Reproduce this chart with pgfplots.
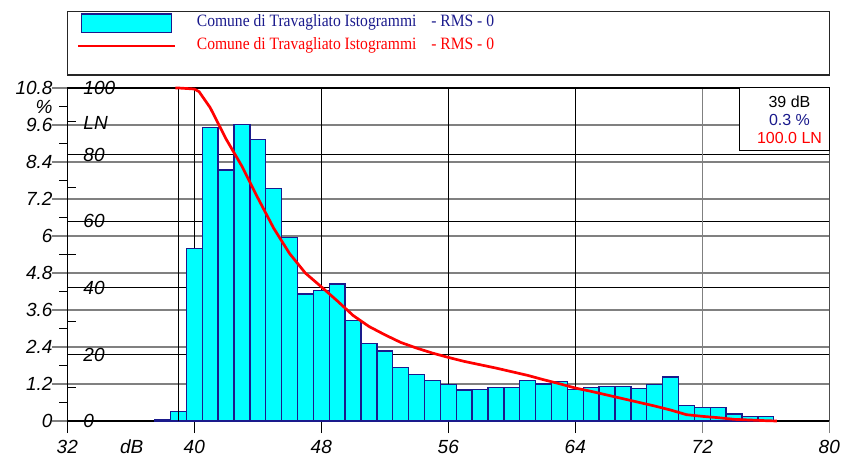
\documentclass[border=0pt]{standalone}
\usepackage{fontspec}
\setmainfont{Liberation Serif}
\newfontfamily\arial{Liberation Sans}
\newfontfamily\legserif[FakeStretch=0.9]{Liberation Serif}
\usepackage{pgfplots}
\pgfplotsset{compat=1.18}
\usepackage{pgfplotstable}
\definecolor{navy}{HTML}{1A1A8C}
\definecolor{gridgray}{HTML}{808080}
\definecolor{barfill}{HTML}{00FFFF}
\newcommand\tickfont{\arial\itshape\fontsize{19bp}{22bp}\selectfont}
\newcommand\boxfont{\arial\fontsize{16bp}{18bp}\selectfont}
\newcommand\legfont{\legserif\fontsize{17.3bp}{20bp}\selectfont}

\pgfplotstableread{
dB pct
38 0.03
39 0.30
40 5.60
41 9.51
42 8.14
43 9.62
44 9.14
45 7.55
46 5.96
47 4.12
48 4.24
49 4.44
50 3.27
51 2.52
52 2.27
53 1.74
54 1.50
55 1.32
56 1.19
57 1.01
58 1.03
59 1.09
60 1.09
61 1.32
62 1.20
63 1.28
64 1.03
65 1.09
66 1.12
67 1.12
68 1.06
69 1.19
70 1.43
71 0.51
72 0.44
73 0.44
74 0.23
75 0.15
76 0.14
}\histdata

\pgfplotstableread{
dB LN
38.8 100
39 100.0
40 99.7
40.3 98.9
41 94.1
42 84.7
43 76.5
44 67.0
45 57.9
46 50.3
47 44.4
48 40.3
49 36.1
50 31.7
51 28.4
52 25.9
53 23.6
54 21.9
55 20.4
56 19.1
57 17.9
58 16.9
59 15.9
60 14.8
61 13.7
62 12.4
63 11.2
64 9.9
65 8.9
66 7.8
67 6.7
68 5.6
69 4.5
70 3.3
71 1.9
72 1.4
73 1.0
74 0.5
75 0.3
76 0.1
76.7 0
}\lndata

\begin{document}
\begin{tikzpicture}
% gray % grid lines (extend left as major ticks)
\foreach \k in {0,...,9}
  \draw[gridgray, line width=1.5bp] (-15.5bp,{\k*37bp}) -- (762bp,{\k*37bp});
% black LN grid lines
\foreach \k in {1,...,4}
  \draw[black, line width=0.9bp] (0bp,{\k*66.6bp}) -- (762bp,{\k*66.6bp});
% vertical grid lines and x ticks
\foreach \x in {127,254,381,508}
  \draw[black, line width=0.9bp] (\x bp,-12bp) -- (\x bp,333bp);
\draw[gridgray, line width=1.6bp] (635bp,-12bp) -- (635bp,333bp);
\draw[black, line width=1bp] (0bp,-12bp) -- (0bp,0bp);
\draw[gridgray, line width=1bp] (762bp,-12bp) -- (762bp,0bp);
% bottom axis line
\draw[black, line width=2bp] (0bp,0bp) -- (762bp,0bp);

\begin{axis}[at={(0bp,0bp)}, anchor=south west, scale only axis,
  width=762bp, height=333bp, xmin=32, xmax=80, ymin=0, ymax=10.8,
  hide axis, clip=false, ybar, bar width=1, bar shift=0pt]
\addplot[fill=barfill, draw=navy, line width=1.3bp] table[x=dB,y=pct]{\histdata};
\end{axis}

% cursor line at 39 dB
\draw[black, line width=0.9bp] (111.1bp,0bp) -- (111.1bp,333bp);
% frame
\draw[black, line width=1.3bp] (0bp,0bp) -- (0bp,333bp);
\draw[black, line width=1.5bp] (0bp,333bp) -- (762bp,333bp);
\draw[black!70, line width=1.5bp] (762bp,0bp) -- (762bp,333bp);

\begin{axis}[at={(0bp,0bp)}, anchor=south west, scale only axis,
  width=762bp, height=333bp, xmin=32, xmax=80, ymin=0, ymax=100,
  hide axis, clip=false]
\addplot[red, line width=2.7bp, line join=round] table[x=dB,y=LN]{\lndata};
\end{axis}

% minor % ticks (outside)
\foreach \k in {0,...,8}
  \draw[black, line width=1bp] (-8bp,{18.5bp+\k*37bp}) -- (0bp,{18.5bp+\k*37bp});
% LN ticks (inside)
\foreach \k in {0,...,5}
  \draw[black, line width=1bp] (0bp,{\k*66.6bp}) -- (17bp,{\k*66.6bp});
\foreach \k in {0,...,4}
  \draw[black, line width=1bp] (0bp,{33.3bp+\k*66.6bp}) -- (8.5bp,{33.3bp+\k*66.6bp});

% % labels
\foreach \k/\lab in {0/0,1/1.2,2/2.4,3/3.6,4/4.8,5/6,6/7.2,7/8.4,8/9.6,9/10.8}
  \node[anchor=base east, inner sep=0pt, font=\tickfont] at (-14.6bp,{\k*37bp-6.8bp}) {\lab};
\node[anchor=base east, inner sep=0pt, font=\tickfont] at (-14.6bp,307.7bp) {\%};
% LN labels
\foreach \k/\lab in {0/0,1/20,2/40,3/60,4/80,5/100}
  \node[anchor=base west, inner sep=0pt, font=\tickfont] at (16bp,{\k*66.6bp-6.8bp}) {\lab};
\node[anchor=base west, inner sep=0pt, font=\tickfont] at (16bp,291.7bp) {LN};
% x labels
\foreach \x/\lab in {0/32,127/40,254/48,381/56,508/64,635/72,762/80}
  \node[anchor=base, inner sep=0pt, font=\tickfont] at (\x bp,-32.2bp) {\lab};
\node[anchor=base, inner sep=0pt, font=\tickfont] at (64.4bp,-32.2bp) {dB};

% info box
\draw[black, line width=1bp, fill=white] (672bp,270.7bp) rectangle (762bp,333bp);
\node[anchor=base, inner sep=0pt, font=\boxfont, text=black] at (722.2bp,313.7bp) {39 dB};
\node[anchor=base, inner sep=0pt, font=\boxfont, text=navy] at (722.2bp,295.3bp) {0.3 \%};
\node[anchor=base, inner sep=0pt, font=\boxfont, text=red] at (722.2bp,277.7bp) {100.0 LN};

% legend
\draw[black!85, line width=1.3bp] (0bp,346bp) rectangle (762bp,409.3bp);
\draw[navy, fill=barfill, line width=1.3bp] (14.4bp,388.7bp) rectangle (104.4bp,407bp);
\draw[red, line width=2.7bp] (10.7bp,375bp) -- (107.7bp,375bp);
\node[anchor=base west, inner sep=0pt, font=\legfont, text=navy] at (129.4bp,394.3bp) {Comune di Travagliato Istogrammi\hspace{11bp} - RMS - 0};
\node[anchor=base west, inner sep=0pt, font=\legfont, text=red] at (129.4bp,371.7bp) {Comune di Travagliato Istogrammi\hspace{11bp} - RMS - 0};

\pgfresetboundingbox
\path[use as bounding box] (-67.3bp,-35bp) rectangle (777.7bp,421bp);
\end{tikzpicture}
\end{document}
